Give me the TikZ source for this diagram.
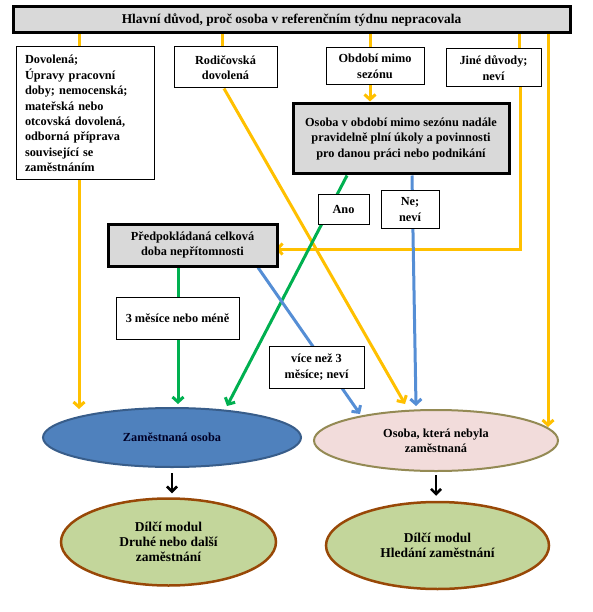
\documentclass[tikz,border=0pt]{standalone}
\usepackage{fontspec}
\setmainfont{Liberation Serif}
\usetikzlibrary{shapes.geometric,arrows.meta,backgrounds}
\definecolor{orangeC}{HTML}{FFC000}
\definecolor{greenC}{HTML}{00B050}
\definecolor{blueC}{HTML}{558ED5}
\definecolor{grayF}{HTML}{D9D9D9}
\definecolor{zamF}{HTML}{4F81BD}
\definecolor{zamD}{HTML}{385D8A}
\definecolor{nezF}{HTML}{F2DCDB}
\definecolor{nezD}{HTML}{948A54}
\definecolor{modF}{HTML}{C3D69B}
\definecolor{modD}{HTML}{984807}
\tikzset{
  txt/.style={font=\bfseries\fontsize{12.3}{15.4}\selectfont, align=center, inner sep=0pt},
  thinbox/.style={txt, draw=black, line width=1pt, fill=white},
  thickbox/.style={txt, draw=black, line width=3pt, fill=grayF},
  ell/.style={txt, ellipse, line width=2pt},
  modell/.style={ell, draw=modD, fill=modF, line width=2.5pt, font=\bfseries\fontsize{13.5}{15.2}\selectfont},
  tipo/.style={-{Straight Barb[length=5pt,width=11pt]}},
  oline/.style={draw=orangeC, line width=3pt},
  gline/.style={draw=greenC, line width=3pt},
  bline/.style={draw=blueC, line width=3pt},
  kline/.style={draw=black, line width=2.5pt, -{Straight Barb[length=5pt,width=10pt]}}
}
\begin{document}
\begin{tikzpicture}[x=1pt,y=-1pt]
\useasboundingbox (0,0) rectangle (593,612);
% nodes
\node[thickbox, minimum width=557pt, minimum height=26pt, font=\bfseries\fontsize{13.4}{16}\selectfont] (top) at (291.5,20) {Hlavní důvod, proč osoba v referenčním týdnu nepracovala};
\node[thinbox, align=left, text width=120pt, inner xsep=9pt, minimum height=133pt] (dov) at (85,113.5)
  {Dovolená;\\ Úpravy pracovní\\ doby; nemocenská;\\ mateřská nebo\\ otcovská dovolená,\\ odborná příprava\\ související se\\ zaměstnáním};
\node[thinbox, minimum width=103pt, minimum height=41pt] (rod) at (225.5,67.5) {Rodičovská\\ dovolená};
\node[thinbox, minimum width=98pt, minimum height=37pt] (obd) at (375,66.5) {Období mimo\\ sezónu};
\node[thinbox, minimum width=95pt, minimum height=38pt] (jine) at (493.5,68) {Jiné důvody;\\ neví};
\node[thickbox, minimum width=216pt, minimum height=70pt] (sez) at (401,139) {Osoba v období mimo sezónu nadále\\ pravidelně plní úkoly a povinnosti\\ pro danou práci nebo podnikání};
\node[thickbox, minimum width=169pt, minimum height=42pt] (pred) at (192.5,245) {Předpokládaná celková\\ doba nepřítomnosti};
\node[ell, draw=zamD, fill=zamF, minimum width=258pt, minimum height=59pt, text=black!85!blue] (zam) at (172,437.5) {Zaměstnaná osoba};
\node[ell, draw=nezD, fill=nezF, minimum width=244pt, minimum height=61pt] (nez) at (436,440.5) {Osoba, která nebyla\\ zaměstnaná};
\node[modell, minimum width=215pt, minimum height=87pt] (m1) at (168.5,542) {Dílčí modul\\ Druhé nebo další\\ zaměstnání};
\node[modell, minimum width=223pt, minimum height=87pt] (m2) at (437.5,545.5) {Dílčí modul\\ Hledání zaměstnání};
% connectors
\begin{scope}[on background layer]
\draw[oline] ([xshift=-6pt]dov.north |- top.south) -- ([xshift=-6pt]dov.north);
\draw[oline,tipo] ([xshift=-6pt]dov.south) -- ([xshift=-6pt,yshift=-2pt]dov.south |- zam.north);
\draw[oline] ([xshift=-3pt]rod.north |- top.south) -- ([xshift=-3pt]rod.north);
\draw[oline,tipo] ([xshift=-1.5pt]rod.south) -- ([xshift=-31pt,yshift=5pt]nez.north);
\draw[oline] ([xshift=-5pt]obd.north |- top.south) -- ([xshift=-5pt]obd.north);
\draw[oline,tipo] ([xshift=-5pt]obd.south) -- ([xshift=-5pt,yshift=1pt]obd.south |- sez.north);
\draw[oline] ([xshift=25.5pt]jine.north |- top.south) -- ([xshift=25.5pt]jine.north);
\draw[oline,tipo] ([xshift=26.5pt]jine.south) |- ([xshift=-3pt,yshift=-4pt]pred.east);
\draw[oline,tipo] ([xshift=112pt]nez.north |- top.south) -- ([xshift=112pt,yshift=-18pt]nez.north);
\draw[gline,tipo] ([xshift=-54pt]sez.south) -- ([xshift=55pt,yshift=1pt]zam.north);
\draw[bline,tipo] ([xshift=11pt]sez.south) -- ([xshift=-20pt,yshift=3pt]nez.north);
\draw[gline,tipo] ([xshift=-14.5pt]pred.south) -- ([xshift=-14.5pt,yshift=3pt]pred.south |- zam.north);
\draw[bline,tipo] ([xshift=65.5pt]pred.south) -- ([xshift=-76pt,yshift=-5pt]nez.north);
\end{scope}
\draw[kline] ([yshift=-5pt]zam.south) -- ([yshift=4pt]zam.south |- m1.north);
\draw[kline] ([yshift=-3pt]nez.south) -- ([yshift=5pt]nez.south |- m2.north);
% labels on connectors
\node[thinbox, minimum width=51pt, minimum height=29pt] (ano) at (343.5,209.5) {Ano};
\node[thinbox, minimum width=58pt, minimum height=37pt] (ne) at (410,209.5) {Ne;\\ neví};
\node[thinbox, minimum width=123pt, minimum height=42pt] (tri) at (177.5,318) {3 měsíce nebo méně};
\node[thinbox, minimum width=95pt, minimum height=42pt] (vice) at (316.5,367) {více než 3\\ měsíce; neví};
\end{tikzpicture}
\end{document}
